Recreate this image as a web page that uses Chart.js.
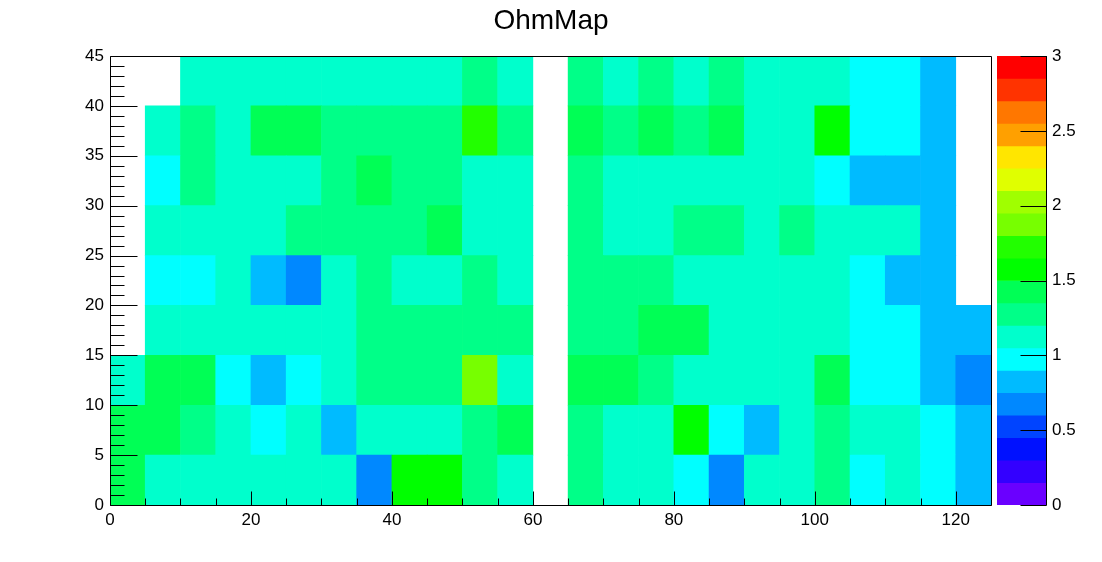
<!DOCTYPE html>
<html>
<head>
<meta charset="utf-8">
<title>OhmMap</title>
<script src="https://cdn.jsdelivr.net/npm/chart.js@4.4.1/dist/chart.umd.min.js"></script>
<style>
  html, body { margin:0; padding:0; background:#fff; }
  #wrap { position:relative; width:1102px; height:562px; }
  #map  { position:absolute; left:0; top:0; }
  #pal  { position:absolute; left:990px; top:0; }
</style>
</head>
<body>
<div id="wrap">
  <canvas id="map" width="1102" height="562"></canvas>
  <canvas id="pal" width="112" height="562"></canvas>
</div>
<script>
/* ---- histogram data (TH2, colz) ---- */
const xEdges = [0,5,10,15,20,25,30,35,40,45,50,55,60,65,70,75,80,85,90,95,100,105,110,115,120,125];
const yEdges = [0,5,10,15,20,25,30,35,40,45];

// one array per y bin, bottom row first; null = empty bin
const row0 = [1.42,1.12,1.12,1.12,1.12,1.12,1.12,0.67,1.57,1.57,1.27,1.12,null,1.27,1.12,1.12,0.97,0.67,1.12,1.12,1.27,0.97,1.12,0.97,0.82];
const row1 = [1.42,1.42,1.27,1.12,0.97,1.12,0.82,1.12,1.12,1.12,1.27,1.42,null,1.27,1.12,1.12,1.57,0.97,0.82,1.12,1.27,1.12,1.12,0.97,0.82];
const row2 = [1.12,1.42,1.42,0.97,0.82,0.97,1.12,1.27,1.27,1.27,1.87,1.12,null,1.42,1.42,1.27,1.12,1.12,1.12,1.12,1.42,0.97,0.97,0.82,0.67];
const row3 = [null,1.12,1.12,1.12,1.12,1.12,1.12,1.27,1.27,1.27,1.27,1.27,null,1.27,1.27,1.42,1.42,1.12,1.12,1.12,1.12,0.97,0.97,0.82,0.82];
const row4 = [null,0.97,0.97,1.12,0.82,0.67,1.12,1.27,1.12,1.12,1.27,1.12,null,1.27,1.27,1.27,1.12,1.12,1.12,1.12,1.12,0.97,0.82,0.82,null];
const row5 = [null,1.12,1.12,1.12,1.12,1.27,1.27,1.27,1.27,1.42,1.12,1.12,null,1.27,1.12,1.12,1.27,1.27,1.12,1.27,1.12,1.12,1.12,0.82,null];
const row6 = [null,0.97,1.27,1.12,1.12,1.12,1.27,1.42,1.27,1.27,1.12,1.12,null,1.27,1.12,1.12,1.12,1.12,1.12,1.12,0.97,0.82,0.82,0.82,null];
const row7 = [null,1.12,1.27,1.12,1.42,1.42,1.27,1.27,1.27,1.27,1.72,1.27,null,1.42,1.27,1.42,1.27,1.42,1.12,1.12,1.57,0.97,0.97,0.82,null];
const row8 = [null,null,1.12,1.12,1.12,1.12,1.12,1.12,1.12,1.12,1.27,1.12,null,1.27,1.12,1.27,1.12,1.27,1.12,1.12,1.12,0.97,0.97,0.82,null];
const rows = [row0,row1,row2,row3,row4,row5,row6,row7,row8];

const xTicks = [0,20,40,60,80,100,120];
const yTicks = [0,5,10,15,20,25,30,35,40,45];
const zTicks = [0,0.5,1,1.5,2,2.5,3];

/* ---- palette (20 contours, 0..3) ---- */
const zEdges  = [0,0.15,0.3,0.45,0.6,0.75,0.9,1.05,1.2,1.35,1.5,1.65,1.8,1.95,2.1,2.25,2.4,2.55,2.7,2.85,3];
const zColors = ['#6a00ff','#3300ff','#0011ff','#0044ff','#0088ff','#00bbff','#00ffff','#00ffcc','#00ff88','#00ff55',
                 '#00ff00','#22ff00','#77ff00','#a0ff00','#e0ff00','#ffe600','#ffa000','#ff7700','#ff3300','#ff0000'];

function zColor(z){
  for(let i = 0; i < zColors.length; i++){
    if(z < zEdges[i+1]) return zColors[i];
  }
  return zColors[zColors.length-1];
}

const FONT = 'Liberation Sans, Arial, Helvetica, sans-serif';

// ---- ticks drawn inside the frame, ROOT style ----
const rootFrame = {
  id: 'rootFrame',
  afterDatasetsDraw(chart){
    const {ctx, chartArea:a, scales:{x, y}} = chart;
    const L = Math.floor(a.left)+0.5, R = Math.floor(a.right)+0.5;
    const T = Math.floor(a.top)+0.5,  B = Math.floor(a.bottom)+0.5;
    ctx.save();
    ctx.strokeStyle = '#000'; ctx.lineWidth = 1;
    ctx.beginPath();
    ctx.rect(L, T, R-L, B-T);
    // x: minor at bin edges, major at labelled ticks
    xEdges.forEach(v => {
      const px = Math.round(x.getPixelForValue(v))+0.5;
      const len = xTicks.includes(v) ? 14 : 7;
      ctx.moveTo(px, B); ctx.lineTo(px, B-len);
    });
    // y: minor every unit
    for(let v = y.min; v <= y.max; v += 1){
      const py = Math.round(y.getPixelForValue(v))+0.5;
      const len = yTicks.includes(v) ? 27 : 14;
      ctx.moveTo(L, py); ctx.lineTo(L+len, py);
    }
    ctx.stroke();
    ctx.restore();
  }
};

const paletteAxis = {
  id: 'paletteAxis',
  afterDatasetsDraw(chart){
    const {ctx, chartArea:a, scales:{y}} = chart;
    const R = Math.floor(a.right)+0.5;
    ctx.save();
    ctx.strokeStyle = '#000'; ctx.lineWidth = 1;
    ctx.beginPath();
    ctx.moveTo(R, a.top); ctx.lineTo(R, a.bottom+0.5);
    zTicks.forEach(v => {
      const py = Math.round(y.getPixelForValue(v))+0.5;
      ctx.moveTo(R, py); ctx.lineTo(R-26, py);
    });
    ctx.stroke();
    ctx.restore();
  }
};

// ---- main map ----
const datasets = rows.map((row, r) => ({
  data: row.map((z, c) => z === null ? null : {
    x: (xEdges[c] + xEdges[c+1]) / 2,
    y: [yEdges[r], yEdges[r+1]],
    z: z
  }).filter(Boolean),
  backgroundColor: (ctx) => zColor(ctx.raw.z),
  borderWidth: 0,
  grouped: false,
  barPercentage: 1,
  categoryPercentage: 1
}));

new Chart(document.getElementById('map'), {
  type: 'bar',
  data: { datasets },
  options: {
    responsive: false, animation: false,
    layout: { padding: { left:0, right:0, top:0, bottom:27 } },
    plugins: {
      legend: { display:false },
      tooltip: { enabled:false },
      title: {
        display: true, text: 'OhmMap', color: '#000',
        font: { family: FONT, size: 28, weight: 'normal' },
        padding: { top: 4, bottom: 18.4 }
      }
    },
    scales: {
      x: {
        type: 'linear', min: xEdges[0], max: xEdges[xEdges.length-1], offset: false,
        grid: { display:false, drawTicks:false }, border: { display:false },
        afterBuildTicks: s => { s.ticks = xTicks.map(v => ({value:v})); },
        afterFit: s => { s.height = 30; },
        ticks: { color:'#000', padding: 5, maxRotation: 0, font: { family: FONT, size: 17 } }
      },
      y: {
        type: 'linear', min: yEdges[0], max: yEdges[yEdges.length-1],
        grid: { display:false, drawTicks:false }, border: { display:false },
        afterBuildTicks: s => { s.ticks = yTicks.map(v => ({value:v})); },
        afterFit: s => { s.width = 110; },
        ticks: { color:'#000', padding: 6, font: { family: FONT, size: 17 } }
      },
      // empty strip on the right, room for the colour palette
      side: {
        axis: 'y', type: 'linear', position: 'right', min: 0, max: 1,
        grid: { display:false, drawTicks:false }, border: { display:false },
        ticks: { display:false },
        afterFit: s => { s.width = 111; }
      }
    }
  },
  plugins: [rootFrame]
});

// ---- colour palette (z axis) ----
new Chart(document.getElementById('pal'), {
  type: 'bar',
  data: {
    datasets: [{
      data: zColors.map((c, i) => ({ x: 0.5, y: [zEdges[i], zEdges[i+1]] })),
      backgroundColor: zColors,
      borderWidth: 0,
      grouped: false,
      barPercentage: 1,
      categoryPercentage: 1
    }]
  },
  options: {
    responsive: false, animation: false,
    layout: { padding: { left:7, right:0, top:56, bottom:57 } },
    plugins: { legend: { display:false }, tooltip: { enabled:false } },
    scales: {
      x: { type:'linear', min:0, max:1, offset:false, display:false },
      y: {
        type: 'linear', position: 'right', min: zEdges[0], max: zEdges[zEdges.length-1],
        grid: { display:false, drawTicks:false }, border: { display:false },
        afterBuildTicks: s => { s.ticks = zTicks.map(v => ({value:v})); },
        afterFit: s => { s.width = 56; },
        ticks: { color:'#000', padding: 6, font: { family: FONT, size: 17 }, callback: v => String(v) }
      }
    }
  },
  plugins: [paletteAxis]
});
</script>
</body>
</html>
